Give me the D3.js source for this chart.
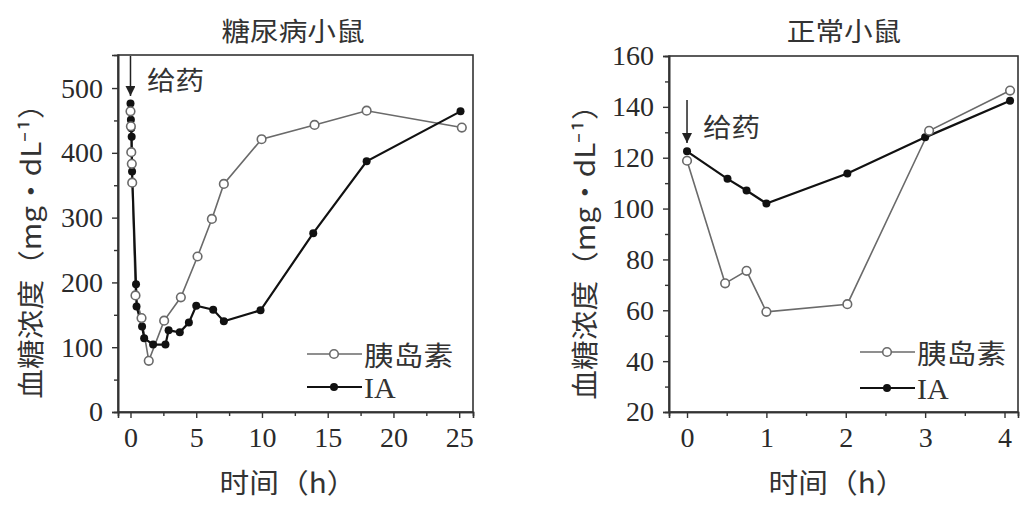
<!DOCTYPE html>
<html>
<head>
<meta charset="utf-8">
<script src="https://cdn.jsdelivr.net/npm/d3@7"></script>
<style>
  html, body { margin: 0; padding: 0; background: #fff; }
  svg { display: block; }
</style>
</head>
<body>
<svg id="chart" width="1030" height="508"></svg>
<script>
// Diabetic mice: time (h) and blood glucose (mg/dL)
const diabInsulinT = [0, 0.03, 0.06, 0.1, 0.13, 0.38, 0.84, 1.39, 2.56, 3.83, 5.1, 6.19, 7.1, 9.97, 14.0, 17.96, 25.2];
const diabInsulinV = [464, 441, 401, 383, 354, 180, 145, 79, 141, 177, 240, 298, 352, 421, 443, 465, 439];
const diabIAT = [0, 0.03, 0.06, 0.09, 0.12, 0.42, 0.46, 0.88, 1.04, 1.72, 2.66, 2.9, 3.75, 4.44, 5.0, 6.29, 7.1, 9.89, 13.9, 17.96, 25.1];
const diabIAV = [476, 451, 438, 425, 371, 197, 163, 132, 114, 104, 104, 126, 123, 138, 164, 158, 140, 157, 276, 387, 464];

// Normal mice
const normInsulinT = [0, 0.48, 0.75, 1.0, 2.02, 3.05, 4.07];
const normInsulinV = [118.8, 70.6, 75.5, 59.4, 62.4, 130.6, 146.4];
const normIAT = [0, 0.51, 0.75, 1.0, 2.02, 3.0, 4.07];
const normIAV = [122.5, 111.7, 107.1, 102.0, 113.8, 128.0, 142.4];

// Tick values
const diabXTicks = [0, 5, 10, 15, 20, 25];
const diabXMinor = [2.5, 7.5, 12.5, 17.5, 22.5];
const diabYTicks = [0, 100, 200, 300, 400, 500];
const diabYMinor = [50, 150, 250, 350, 450];
const normXTicks = [0, 1, 2, 3, 4];
const normXMinor = [0.5, 1.5, 2.5, 3.5];
const normYTicks = [20, 40, 60, 80, 100, 120, 140, 160];
const normYMinor = [30, 50, 70, 90, 110, 130, 150];

// Text
const titles = ["糖尿病小鼠", "正常小鼠"];
const yLabel = "血糖浓度（mg・dL⁻¹）";
const xLabel = "时间（h）";
const doseLabel = "给药";
const seriesNames = ["胰岛素", "IA"];

const SERIF = '"Liberation Serif", "DejaVu Serif", serif';
const CJK = '"Noto Sans CJK SC", "Noto Sans CJK JP", sans-serif';
const AXIS = "#333";
const GREY = "#6a6a6a";

const svg = d3.select("#chart");
svg.append("defs").append("marker")
  .attr("id", "arrowHead")
  .attr("viewBox", "0 0 10 10")
  .attr("refX", 10).attr("refY", 5)
  .attr("markerWidth", 10).attr("markerHeight", 10)
  .attr("markerUnits", "userSpaceOnUse")
  .attr("orient", "auto")
  .append("path").attr("d", "M0,0 L10,5 L0,10 Z").attr("fill", "#222");

// CJK text drawn slightly widened
function cjkText(parent, x, y, str, size, anchor, rotate) {
  const sx = 1.1;
  const t = parent.append("text")
    .attr("transform", `translate(${x},${y})${rotate ? " rotate(-90)" : ""} scale(${sx},1)`)
    .attr("text-anchor", anchor).attr("dominant-baseline", "central")
    .attr("fill", "#333")
    .style("font-family", CJK).style("font-size", size + "px")
    .text(str);
  return t;
}

function panel(cfg) {
  const g = svg.append("g");
  const x = d3.scaleLinear().domain(cfg.xDomain).range([cfg.left, cfg.right]);
  const y = d3.scaleLinear().domain(cfg.yDomain).range([cfg.bottom, cfg.top]);

  // frame
  g.append("rect")
    .attr("x", cfg.left).attr("y", cfg.top)
    .attr("width", cfg.right - cfg.left).attr("height", cfg.bottom - cfg.top)
    .attr("fill", "none").attr("stroke", AXIS).attr("stroke-width", 1.6);

  // axes with major and minor ticks
  g.append("g").attr("transform", `translate(0,${cfg.bottom})`)
    .call(d3.axisBottom(x).tickValues(cfg.xTicks).tickSize(6).tickPadding(9).tickFormat(d3.format("d")));
  g.append("g").attr("transform", `translate(0,${cfg.bottom})`)
    .call(d3.axisBottom(x).tickValues(cfg.xMinor).tickSize(4).tickFormat(""));
  g.append("g").attr("transform", `translate(${cfg.left},0)`)
    .call(d3.axisLeft(y).tickValues(cfg.yTicks).tickSize(6).tickPadding(9).tickFormat(d3.format("d")));
  g.append("g").attr("transform", `translate(${cfg.left},0)`)
    .call(d3.axisLeft(y).tickValues(cfg.yMinor).tickSize(4).tickFormat(""));

  g.selectAll(".domain").attr("stroke", AXIS).attr("stroke-width", 1.6);
  g.selectAll(".tick line").attr("stroke", AXIS).attr("stroke-width", 1.4);
  g.selectAll(".tick text")
    .attr("fill", "#2a2a2a")
    .style("font-family", SERIF)
    .style("font-size", "28px");

  // titles and axis labels
  cjkText(g, cfg.titleX, 30, cfg.title, 26, "middle", false);
  cjkText(g, cfg.yLabelX, cfg.yLabelY, yLabel, 27, "middle", true);
  cjkText(g, cfg.xLabelX, 481, xLabel, 27, "middle", false);

  // dosing arrow
  g.append("line")
    .attr("x1", x(0)).attr("x2", x(0))
    .attr("y1", cfg.arrowY1).attr("y2", cfg.arrowY2)
    .attr("stroke", "#222").attr("stroke-width", 1.5)
    .attr("marker-end", "url(#arrowHead)");
  cjkText(g, cfg.doseX, cfg.doseY, doseLabel, 26, "start", false);

  const line = d3.line().x(d => x(d[0])).y(d => y(d[1]));
  const ins = d3.zip(cfg.insT, cfg.insV);
  const ia = d3.zip(cfg.iaT, cfg.iaV);

  // insulin series (open circles)
  g.append("path").datum(ins).attr("d", line)
    .attr("fill", "none").attr("stroke", GREY).attr("stroke-width", 1.6);
  // IA series (filled circles)
  g.append("path").datum(ia).attr("d", line)
    .attr("fill", "none").attr("stroke", "#111").attr("stroke-width", 2.2);
  g.selectAll(".ia").data(ia).enter().append("circle")
    .attr("cx", d => x(d[0])).attr("cy", d => y(d[1])).attr("r", 4)
    .attr("fill", "#111");
  g.selectAll(".ins").data(ins).enter().append("circle")
    .attr("cx", d => x(d[0])).attr("cy", d => y(d[1])).attr("r", 4.3)
    .attr("fill", "#fff").attr("stroke", GREY).attr("stroke-width", 1.6);

  // legend
  const lg = g.append("g").attr("transform", `translate(${cfg.legendX},0)`);
  lg.append("line").attr("x1", 0).attr("x2", 55).attr("y1", cfg.legendY1).attr("y2", cfg.legendY1)
    .attr("stroke", GREY).attr("stroke-width", 1.6);
  lg.append("circle").attr("cx", 27).attr("cy", cfg.legendY1).attr("r", 4.3)
    .attr("fill", "#fff").attr("stroke", GREY).attr("stroke-width", 1.6);
  cjkText(lg, 57, cfg.legendY1, seriesNames[0], 27, "start", false);
  lg.append("line").attr("x1", 0).attr("x2", 55).attr("y1", cfg.legendY2).attr("y2", cfg.legendY2)
    .attr("stroke", "#111").attr("stroke-width", 2.2);
  lg.append("circle").attr("cx", 27).attr("cy", cfg.legendY2).attr("r", 4).attr("fill", "#111");
  lg.append("text").attr("x", 57).attr("y", cfg.legendY2)
    .attr("dominant-baseline", "central").attr("fill", "#333")
    .style("font-family", SERIF).style("font-size", "30px").text(seriesNames[1]);
}

panel({
  left: 118, right: 473, top: 55, bottom: 412,
  xDomain: [-0.95, 26.05], yDomain: [0, 551],
  xTicks: diabXTicks, xMinor: diabXMinor, yTicks: diabYTicks, yMinor: diabYMinor,
  insT: diabInsulinT, insV: diabInsulinV, iaT: diabIAT, iaV: diabIAV,
  title: titles[0], titleX: 293, yLabelX: 29, yLabelY: 244, xLabelX: 288,
  arrowY1: 56, arrowY2: 96, doseX: 147, doseY: 79,
  legendX: 307, legendY1: 354, legendY2: 387
});

panel({
  left: 669, right: 1018, top: 56, bottom: 412,
  xDomain: [-0.227, 4.17], yDomain: [20, 160],
  xTicks: normXTicks, xMinor: normXMinor, yTicks: normYTicks, yMinor: normYMinor,
  insT: normInsulinT, insV: normInsulinV, iaT: normIAT, iaV: normIAV,
  title: titles[1], titleX: 844, yLabelX: 583, yLabelY: 245, xLabelX: 837,
  arrowY1: 100, arrowY2: 143, doseX: 703, doseY: 126,
  legendX: 860, legendY1: 352, legendY2: 388
});
</script>
</body>
</html>
